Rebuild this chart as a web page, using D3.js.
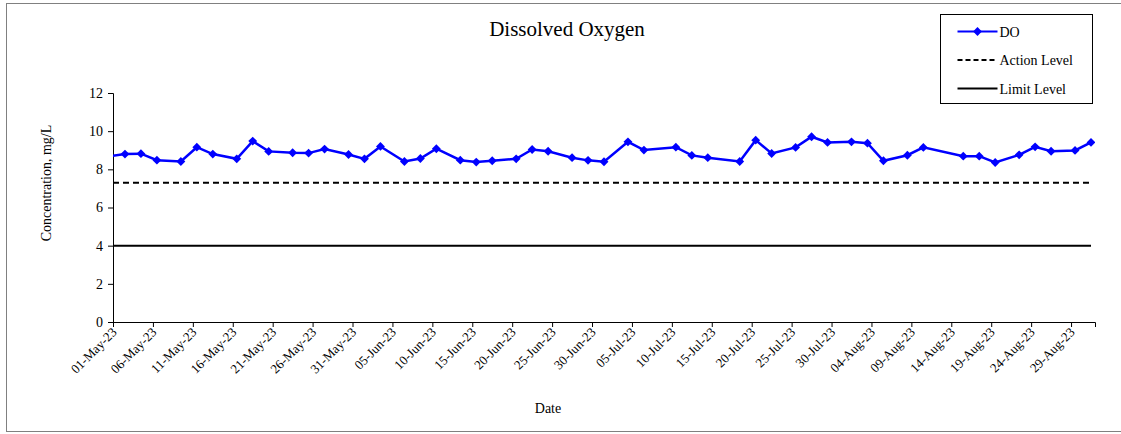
<!DOCTYPE html>
<html>
<head>
<meta charset="utf-8">
<script src="https://cdn.jsdelivr.net/npm/d3@7"></script>
<style>
  body { margin: 0; background: #fff; }
  .axis path, .axis line { stroke: #000; }
</style>
</head>
<body>
<div id="chart-area"></div>
<script>
// sample dates and dissolved oxygen readings (mg/L)
var doDates = ["2023-04-28", "2023-05-02", "2023-05-04", "2023-05-06", "2023-05-09", "2023-05-11",
    "2023-05-13", "2023-05-16", "2023-05-18", "2023-05-20", "2023-05-23", "2023-05-25",
    "2023-05-27", "2023-05-30", "2023-06-01", "2023-06-03", "2023-06-06", "2023-06-08",
    "2023-06-10", "2023-06-13", "2023-06-15", "2023-06-17", "2023-06-20", "2023-06-22",
    "2023-06-24", "2023-06-27", "2023-06-29", "2023-07-01", "2023-07-04", "2023-07-06",
    "2023-07-10", "2023-07-12", "2023-07-14", "2023-07-18", "2023-07-20", "2023-07-22",
    "2023-07-25", "2023-07-27", "2023-07-29", "2023-08-01", "2023-08-03", "2023-08-05",
    "2023-08-08", "2023-08-10", "2023-08-15", "2023-08-17", "2023-08-19", "2023-08-22",
    "2023-08-24", "2023-08-26", "2023-08-29", "2023-08-31"];
var doValues = [8.55, 8.80, 8.82, 8.48, 8.41, 9.16,
    8.80, 8.55, 9.48, 8.94, 8.87, 8.85,
    9.06, 8.78, 8.55, 9.20, 8.41, 8.57,
    9.08, 8.48, 8.38, 8.45, 8.55, 9.04,
    8.95, 8.61, 8.47, 8.40, 9.44, 9.01,
    9.16, 8.73, 8.61, 8.41, 9.53, 8.83,
    9.15, 9.71, 9.41, 9.44, 9.37, 8.45,
    8.74, 9.15, 8.69, 8.69, 8.36, 8.76,
    9.18, 8.95, 8.99, 9.41];

var actionLevel = 7.3;
var limitLevel = 4;
var levelDates = ["2023-05-01", "2023-08-31"];
var yTicks = [0, 2, 4, 6, 8, 10, 12];

var parse = d3.timeParse("%Y-%m-%d");
var fmt = d3.timeFormat("%d-%b-%y");
var serif = "'Liberation Serif', 'Times New Roman', Times, serif";

var W = 1121, H = 434;
var margin = {top: 93, right: 26, bottom: 112, left: 113};
var width = W - margin.left - margin.right,
    height = H - margin.top - margin.bottom;

var root = d3.select("#chart-area").append("svg")
    .attr("width", W)
    .attr("height", H)
    .attr("font-family", serif);

// outer chart border
root.append("rect")
    .attr("x", 6.5).attr("y", 3.5)
    .attr("width", W).attr("height", 428)
    .attr("fill", "none")
    .attr("stroke", "#808080");

var svg = root.append("g")
    .attr("transform", "translate(" + margin.left + "," + margin.top + ")");

var x = d3.scaleTime()
    .domain([parse("2023-05-01"), parse("2023-09-01")])
    .range([0, width]);
var y = d3.scaleLinear()
    .domain([0, 12])
    .range([height, 0]);

// Excel style date axis: points sit in the middle of each day
var halfDay = 12 * 3600 * 1000;
var px = function(s) { return x(new Date(parse(s).getTime() + halfDay)); };

svg.append("defs").append("clipPath")
    .attr("id", "plot-clip")
    .append("rect")
    .attr("x", 0).attr("y", -10)
    .attr("width", width).attr("height", height + 20);

var tickDates = d3.timeDay.range(parse("2023-05-01"), parse("2023-09-01"), 1)
    .filter(function(d, i) { return i % 5 === 0; });

var xAxis = svg.append("g")
    .attr("class", "axis")
    .attr("transform", "translate(0," + height + ")")
    .call(d3.axisBottom(x).tickValues(tickDates).tickFormat(fmt).tickSizeOuter(0).tickSize(5));
xAxis.attr("font-family", serif).attr("font-size", 13);
xAxis.select(".domain").attr("stroke", "#555");
xAxis.selectAll("text")
    .attr("text-anchor", "end")
    .attr("x", 0).attr("y", 0).attr("dy", 0)
    .attr("transform", "translate(4,11) rotate(-45)");

var yAxis = svg.append("g")
    .attr("class", "axis")
    .call(d3.axisLeft(y).tickValues(yTicks).tickSizeOuter(0).tickSize(5).tickPadding(5));
yAxis.attr("font-family", serif).attr("font-size", 14);
yAxis.select(".domain").attr("stroke", "#555");

var plot = svg.append("g").attr("clip-path", "url(#plot-clip)");

// action and limit levels
plot.append("line")
    .attr("x1", px(levelDates[0]) - 4).attr("x2", px(levelDates[1]))
    .attr("y1", y(actionLevel)).attr("y2", y(actionLevel))
    .attr("stroke", "#000").attr("stroke-width", 2)
    .attr("stroke-dasharray", "6,4");
plot.append("line")
    .attr("x1", px(levelDates[0]) - 4).attr("x2", px(levelDates[1]))
    .attr("y1", y(limitLevel)).attr("y2", y(limitLevel))
    .attr("stroke", "#000").attr("stroke-width", 2);

var pts = doDates.map(function(d, i) { return {date: d, value: doValues[i]}; });

plot.append("path")
    .datum(pts)
    .attr("fill", "none")
    .attr("stroke", "#0000ff")
    .attr("stroke-width", 2.5)
    .attr("d", d3.line().x(function(d) { return px(d.date); }).y(function(d) { return y(d.value); }));

var diamond = d3.symbol().type(d3.symbolDiamond2).size(50);
plot.selectAll(".marker")
    .data(pts.slice(1))
    .enter().append("path")
    .attr("class", "marker")
    .attr("d", diamond)
    .attr("transform", function(d) { return "translate(" + px(d.date) + "," + y(d.value) + ")"; })
    .attr("fill", "#0000ff");

// titles
root.append("text")
    .attr("x", 567).attr("y", 36)
    .attr("text-anchor", "middle")
    .attr("font-size", 21)
    .text("Dissolved Oxygen");

root.append("text")
    .attr("transform", "translate(51,183) rotate(-90)")
    .attr("text-anchor", "middle")
    .attr("font-size", 14)
    .text("Concentration, mg/L");

root.append("text")
    .attr("x", 548).attr("y", 413)
    .attr("text-anchor", "middle")
    .attr("font-size", 14)
    .text("Date");

// legend
var lg = root.append("g").attr("transform", "translate(940.5,14.5)");
lg.append("rect")
    .attr("width", 152).attr("height", 89)
    .attr("fill", "#fff").attr("stroke", "#000");

var legendItems = ["DO", "Action Level", "Limit Level"];
legendItems.forEach(function(name, i) {
    var ly = 17 + i * 28.5;
    var ln = lg.append("line")
        .attr("x1", 17).attr("x2", 57)
        .attr("y1", ly).attr("y2", ly)
        .attr("stroke", i === 0 ? "#0000ff" : "#000")
        .attr("stroke-width", 2);
    if (i === 1) ln.attr("stroke-dasharray", "5,3");
    if (i === 0) {
        lg.append("path")
            .attr("d", diamond)
            .attr("transform", "translate(37," + ly + ")")
            .attr("fill", "#0000ff");
    }
    lg.append("text")
        .attr("x", 59).attr("y", ly + 5)
        .attr("font-size", 14)
        .text(name);
});
</script>
</body>
</html>
